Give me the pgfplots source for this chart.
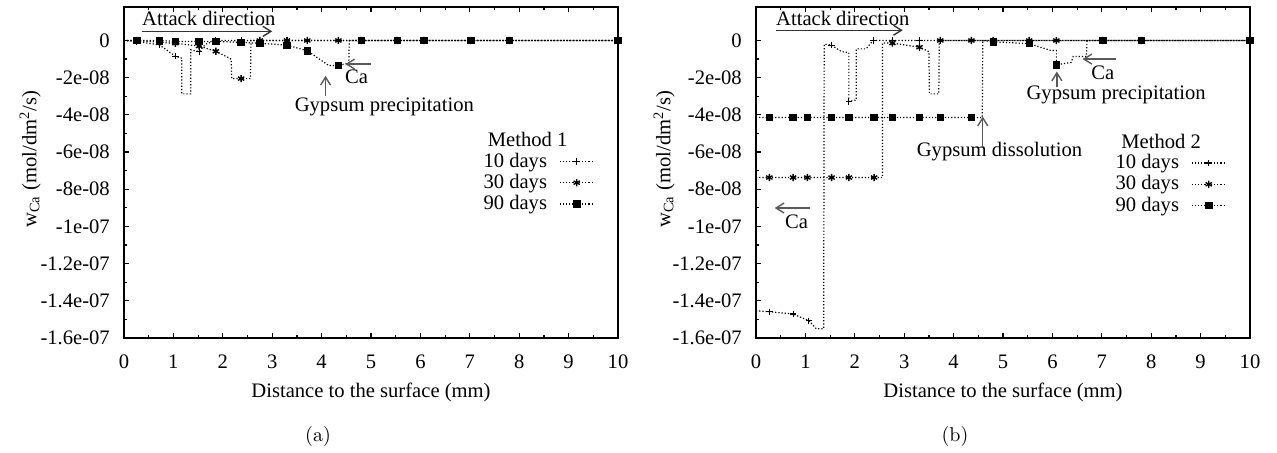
\documentclass[border=0pt]{standalone}
\usepackage{fontspec}
\usepackage{pgfplots}
\pgfplotsset{compat=1.18}
\usetikzlibrary{arrows.meta}
\newfontfamily\gpserif{Liberation Serif}
\newcommand\gfont{\gpserif\fontsize{10.3}{12}\selectfont}
\tikzset{ann/.style={draw=black!65, line width=0.7pt, -{Straight Barb[length=4pt,width=5pt]}}}
\pgfplotsset{
  gp/.style={
    scale only axis, width=247pt, height=165.5pt,
    xmin=0, xmax=10, ymin=-1.6e-7, ymax=1.8e-8,
    xtick={0,1,2,3,4,5,6,7,8,9,10}, xticklabels={0,1,2,3,4,5,6,7,8,9,10},
    minor x tick num=1,
    ytick={-1.6e-7,-1.4e-7,-1.2e-7,-1e-7,-8e-8,-6e-8,-4e-8,-2e-8,0},
    yticklabels={-1.6e-07,-1.4e-07,-1.2e-07,-1e-07,-8e-08,-6e-08,-4e-08,-2e-08,0},
    minor y tick num=1,
    scaled y ticks=false,
    tick align=inside, xtick pos=both, ytick pos=left,
    major tick length=2.5pt, minor tick length=1.3pt,
    axis line style={line width=0.9pt},
    every tick/.style={black, line width=0.6pt},
    tick label style={font=\gfont},
    xticklabel style={yshift=-5pt},
    yticklabel style={xshift=-3.6pt},
    label style={font=\gfont},
    xlabel={Distance to the surface (mm)},
    ylabel={w\textsubscript{Ca} (mol/dm\textsuperscript{2}/s)},
    ylabel style={at={(axis description cs:-0.19,0.54)}, anchor=center},
    clip=false,
    legend plot pos=right, legend cell align=right,
    legend style={draw=none, fill=none, font=\gfont, inner sep=0pt,
      nodes={inner sep=1pt}, anchor=north east, column sep=5pt},
  },
  ln/.style={densely dotted, line width=0.6pt, black, no markers, forget plot},
  m10/.style={mark=+, mark size=1.6pt, mark options={solid, line width=0.55pt}},
  m30/.style={mark=asterisk, mark size=1.8pt, mark options={solid, line width=0.7pt}},
  m90/.style={mark=square*, mark size=1.6pt, mark options={solid}},
  mk/.style={only marks, black, forget plot},
}
\begin{document}
\begin{tikzpicture}
\useasboundingbox (0,0) rectangle (638.5pt,-226pt);
% ---------------- (a) ----------------
\begin{axis}[gp, at={(62pt,-169pt)}, anchor=south west,
  legend style={at={(axis description cs:0.953,0.567)}}]
\addplot[ln] coordinates {(0,0)(0.26,-0.05e-8)(0.72,-0.24e-8)(1.04,-0.85e-8)(1.17,-0.95e-8)(1.17,-2.87e-8)(1.35,-2.87e-8)(1.35,-0.5e-8)(1.52,-0.6e-8)(1.65,-0.2e-8)(1.86,0)(10,0)};
\addplot[ln] coordinates {(0,0)(0.26,0)(0.72,-0.1e-8)(1.04,-0.15e-8)(1.52,-0.3e-8)(1.86,-0.58e-8)(2.17,-1.0e-8)(2.18,-2.05e-8)(2.56,-2.05e-8)(2.57,0)(10,0)};
\addplot[ln] coordinates {(0,0)(0.72,0)(1.04,-0.05e-8)(1.86,-0.05e-8)(2.37,-0.1e-8)(2.75,-0.15e-8)(3.30,-0.25e-8)(3.71,-0.55e-8)(4.14,-1.34e-8)(4.34,-1.34e-8)(4.50,-1.25e-8)(4.55,-1.25e-8)(4.56,0)(10,0)};
\addplot[mk, m10] coordinates {(0.26,-0.05e-8)(0.72,-0.24e-8)(1.04,-0.85e-8)(1.52,-0.6e-8)(1.86,0)(2.37,0)(2.75,0)(3.30,0)(3.71,0)(4.34,0)(4.80,0)(5.53,0)(6.07,0)(7.02,0)(7.80,0)(10,0)};
\addplot[mk, m30] coordinates {(0.26,0)(0.72,-0.1e-8)(1.04,-0.15e-8)(1.52,-0.3e-8)(1.86,-0.58e-8)(2.37,-2.05e-8)(2.75,0)(3.30,0)(3.71,0)(4.34,0)(4.80,0)(5.53,0)(6.07,0)(7.02,0)(7.80,0)(10,0)};
\addplot[mk, m90] coordinates {(0.26,0)(0.72,0)(1.04,-0.05e-8)(1.52,-0.05e-8)(1.86,-0.05e-8)(2.37,-0.1e-8)(2.75,-0.15e-8)(3.30,-0.25e-8)(3.71,-0.55e-8)(4.34,-1.34e-8)(4.80,0)(5.53,0)(6.07,0)(7.02,0)(7.80,0)(10,0)};
\addlegendimage{densely dotted, line width=0.6pt, black, m10}
\addlegendentry{10 days}
\addlegendimage{densely dotted, line width=0.6pt, black, m30}
\addlegendentry{30 days}
\addlegendimage{densely dotted, line width=0.6pt, black, m90}
\addlegendentry{90 days}
\node[font=\gfont] at (axis cs:8.17,-5.34e-8) {Method 1};
\node[font=\gfont, anchor=west, inner sep=0pt] at (axis cs:0.36,1.18e-8) {Attack direction};
\draw[ann, draw=black!80] (axis cs:0.36,0.49e-8) -- (axis cs:3.0,0.49e-8);
\draw[ann] (axis cs:4.99,-1.27e-8) -- (axis cs:4.48,-1.27e-8);
\node[font=\gfont, inner sep=0pt] at (axis cs:4.71,-1.95e-8) {Ca};
\draw[ann] (axis cs:4.08,-3.01e-8) -- (axis cs:4.08,-1.9e-8);
\node[font=\gfont, inner sep=0pt] at (axis cs:5.27,-3.55e-8) {Gypsum precipitation};
\end{axis}
% ---------------- (b) ----------------
\begin{axis}[gp, at={(378pt,-169pt)}, anchor=south west,
  ylabel style={at={(axis description cs:-0.186,0.54)}},
  legend style={at={(axis description cs:0.953,0.562)}}]
\addplot[ln] coordinates {(0,-14.54e-8)(0.28,-14.59e-8)(0.75,-14.71e-8)(1.07,-15.07e-8)(1.22,-15.5e-8)(1.37,-15.5e-8)(1.38,-0.2e-8)(1.53,-0.25e-8)(1.73,-0.6e-8)(1.88,-0.65e-8)(1.88,-3.28e-8)(2.03,-3.2e-8)(2.03,-0.45e-8)(2.23,-0.45e-8)(2.37,0)(10,0)};
\addplot[ln] coordinates {(0,-7.37e-8)(2.56,-7.37e-8)(2.56,-0.14e-8)(2.76,-0.14e-8)(3.31,-0.36e-8)(3.50,-0.6e-8)(3.51,-2.87e-8)(3.70,-2.87e-8)(3.71,0)(10,0)};
\addplot[ln] coordinates {(0,-4.14e-8)(4.58,-4.14e-8)(4.59,0)(4.80,-0.07e-8)(5.53,-0.17e-8)(5.97,-0.54e-8)(6.08,-0.54e-8)(6.08,-1.31e-8)(6.38,-1.18e-8)(6.42,-0.86e-8)(6.69,-0.86e-8)(6.70,0)(10,0)};
\addplot[mk, m10] coordinates {(0.28,-14.59e-8)(0.75,-14.71e-8)(1.07,-15.07e-8)(1.53,-0.25e-8)(1.88,-3.28e-8)(2.37,0)(2.76,0)(3.31,0)(3.73,0)(4.36,0)(4.80,0)(5.53,0)(6.08,0)(7.02,0)(7.80,0)(10,0)};
\addplot[mk, m30] coordinates {(0.27,-7.37e-8)(0.75,-7.37e-8)(1.04,-7.37e-8)(1.53,-7.37e-8)(1.88,-7.37e-8)(2.39,-7.37e-8)(2.76,-0.14e-8)(3.31,-0.36e-8)(3.73,0)(4.36,0)(4.80,0)(5.53,0)(6.08,0)(7.02,0)(7.80,0)(10,0)};
\addplot[mk, m90] coordinates {(0.27,-4.14e-8)(0.75,-4.14e-8)(1.04,-4.14e-8)(1.53,-4.14e-8)(1.88,-4.14e-8)(2.39,-4.14e-8)(2.76,-4.14e-8)(3.31,-4.14e-8)(3.73,-4.14e-8)(4.36,-4.14e-8)(4.80,-0.07e-8)(5.53,-0.17e-8)(6.08,-1.31e-8)(7.02,0)(7.80,0)(10,0)};
\addlegendimage{densely dotted, line width=0.6pt, black, m10}
\addlegendentry{10 days}
\addlegendimage{densely dotted, line width=0.6pt, black, m30}
\addlegendentry{30 days}
\addlegendimage{densely dotted, line width=0.6pt, black, m90}
\addlegendentry{90 days}
\node[font=\gfont] at (axis cs:8.2,-5.45e-8) {Method 2};
\node[font=\gfont, anchor=west, inner sep=0pt] at (axis cs:0.40,1.18e-8) {Attack direction};
\draw[ann, draw=black!80] (axis cs:0.40,0.55e-8) -- (axis cs:2.97,0.55e-8);
\draw[ann] (axis cs:7.29,-1.0e-8) -- (axis cs:6.61,-1.0e-8);
\node[font=\gfont, inner sep=0pt] at (axis cs:7.02,-1.75e-8) {Ca};
\draw[ann] (axis cs:6.09,-2.51e-8) -- (axis cs:6.09,-1.67e-8);
\node[font=\gfont, inner sep=0pt] at (axis cs:7.29,-2.92e-8) {Gypsum precipitation};
\draw[ann] (axis cs:4.59,-5.7e-8) -- (axis cs:4.59,-4.09e-8);
\node[font=\gfont, inner sep=0pt] at (axis cs:4.93,-5.97e-8) {Gypsum dissolution};
\draw[ann] (axis cs:1.09,-9.01e-8) -- (axis cs:0.38,-9.01e-8);
\node[font=\gfont, inner sep=0pt] at (axis cs:0.82,-9.73e-8) {Ca};
\end{axis}
\node at (159pt,-218pt) {(a)};
\node at (477.5pt,-218pt) {(b)};
\end{tikzpicture}
\end{document}
